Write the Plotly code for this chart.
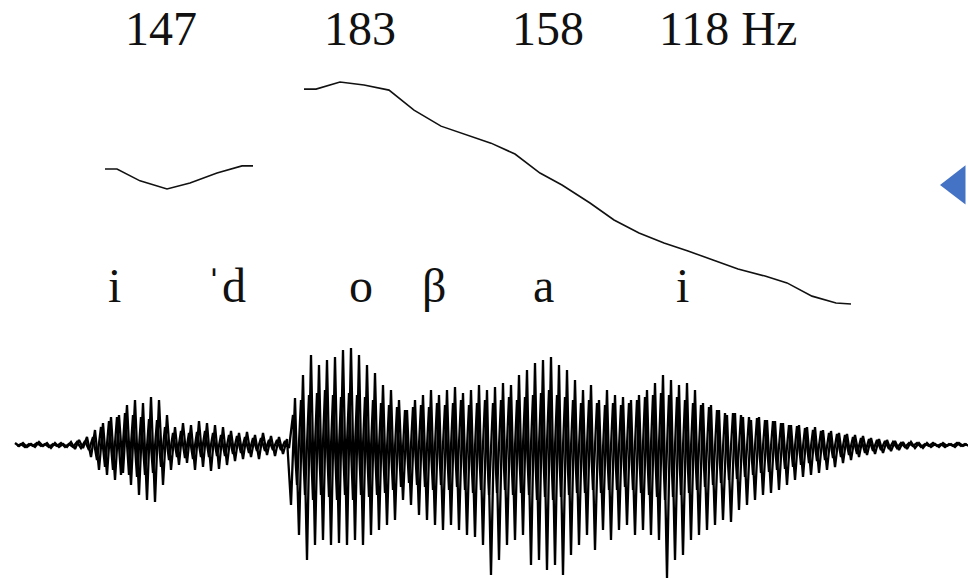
import numpy as np
import plotly.graph_objects as go

# ---------------- data ----------------
# F0 contour, two voiced stretches (time in ms-like units, F0 in Hz)
f0_t1 = [105, 117, 140, 167, 190, 217, 242, 253]
f0_hz1 = [157.4, 157.4, 153.9, 151.5, 153.3, 156.2, 158.3, 158.3]
f0_t2 = [304, 316, 340, 364, 389, 414, 441, 491, 515, 540, 562, 590, 614,
         639, 664, 688, 713, 738, 765, 787, 812, 836, 851]
f0_hz2 = [180.9, 180.9, 183.0, 182.1, 180.6, 174.7, 170.0, 165.0, 161.8,
          156.2, 152.7, 147.4, 142.4, 138.6, 135.6, 133.3, 130.6, 128.0,
          125.9, 123.9, 120.0, 118.0, 117.7]

# Waveform: main excursions, one every 4 time units from t=15
wave_start = 15
wave_step = 4
wave_amp = [
    2, -1, 2, -2, 1, -2, 3, -1, 2, -3, 2, -2, 1, -2, 3, -4, 5, -3, 8, -12,
    15, -25, 22, -30, 28, -35, 30, -28, 40, -40, 45, -50, 42, -55, 48, -57, 45, -40, 30, -25,
    18, -20, 22, -18, 20, -25, 24, -22, 22, -26, 20, -24, 18, -20, 14, -16, 12, -14, 13, -12,
    10, -14, 12, -10, 9, -11, 8, -9, 6, -60, 47, -90, 70, -115, 90, -100, 80, -95, 85, -100,
    88, -98, 95, -100, 97, -95, 90, -100, 80, -90, 72, -85, 60, -80, 55, -75, 45, -55, 35, -60,
    45, -70, 50, -75, 55, -80, 50, -85, 55, -80, 58, -85, 52, -90, 55, -92, 60, -100, 55, -130,
    58, -115, 62, -100, 60, -95, 70, -90, 75, -120, 82, -115, 85, -125, 88, -120, 80, -130, 75, -110,
    65, -100, 55, -90, 60, -105, 45, -85, 55, -95, 50, -85, 48, -80, 45, -90, 50, -85, 55, -90,
    62, -95, 70, -133, 65, -115, 60, -110, 62, -95, 55, -90, 42, -85, 40, -80, 35, -75, 30, -77,
    32, -65, 28, -60, 25, -55, 28, -50, 25, -48, 24, -45, 22, -40, 20, -35, 20, -32, 18, -30,
    18, -28, 15, -25, 14, -22, 12, -18, 11, -15, 10, -12, 9, -10, 7, -9, 6, -8, 5, -6,
    4, -5, 3, -4, 3, -3, 2, -3, 2, -2, 1, -2, 2, -1, 1, -2, 2, -1, 1,
]
# Waveform: dense core oscillation between the main excursions (from t=17)
core_start = 17
core_amp = [
    -1, 1, -2, 1, -1, 2, -1, 1, -2, 1, -1, 2, -2, 1, -2, 3, -3, 4, -5,
    8, -15, 18, -22, 24, -25, 28, -30, 32, -30, 30, -32, 28, -30, 26, -28, 25, -22, 18, -15,
    12, -12, 14, -13, 12, -14, 13, -12, 14, -12, 12, -11, 10, -11, 10, -9, 9, -8, 8, -8,
    7, -6, 7, -6, 5, -5, 5, -5, 4, -3,
    30,
    -40, 45, -50, 50, -55, 52, -50, 55, -52, 50, -55, 48, -50, 52, -55, 50, -50, 48, -52, 45,
    -50, 42, -48, 40, -45, 38, -42,
    35, -38, 38, -40, 40, -42, 38, -45, 42, -40, 40, -45, 42, -42, 45, -45, 40, -48, 42, -45,
    45, -50, 42, -48, 45, -45, 48, -50, 45, -48, 48,
    -50, 50, -55, 52, -52, 55, -55, 50, -52, 48, -50, 45, -48, 42, -48, 45, -45, 42, -48, 40,
    -45, 42, -45, 40, -42, 42, -45, 45, -48, 48, -50,
    50, -52, 52, -55, 50, -52, 48, -50, 45, -48, 42, -45, 40, -42, 38, -40, 35, -38, 32, -35,
    32, -34, 30, -32, 28, -30, 27, -28, 25, -27, 24, -25, 22, -24, 20, -22, 19, -20, 17, -18,
    15, -16, 14, -15, 12, -13, 11, -12, 10, -10, 8, -9, 7, -8, 6, -6, 5, -5, 4, -4, 3, -3,
    2, -2, 2, -1, 2, -2, 1, -1, 2, -1, 1, -2, 1, -1, 2, -1, 1, -1,
]

hz_labels = ["147", "183", "158", "118 Hz"]
hz_label_t = [161, 360, 548, 728]

phone_labels = ["i", "\u02c8d", "o", "\u03b2", "a", "i"]
phone_label_t = [114, 226, 361, 434, 543, 682]

nav_marker_t = [957]
nav_marker_hz = [152.7]

# ---------------- figure ----------------
W, H = 968, 578
wave_t = wave_start + wave_step * np.arange(len(wave_amp))
core_t = core_start + wave_step * np.arange(len(core_amp))


def py(p):
    """window pixel row -> paper fraction"""
    return 1 - p / H


fig = go.Figure()
for t, hz in ((f0_t1, f0_hz1), (f0_t2, f0_hz2)):
    fig.add_trace(go.Scatter(x=t, y=hz, mode="lines",
                             line=dict(color="#111111", width=1.6),
                             hoverinfo="skip", showlegend=False))

fig.add_trace(go.Scatter(x=core_t, y=core_amp, mode="lines", yaxis="y2",
                         line=dict(color="#000000", width=2.3),
                         hoverinfo="skip", showlegend=False))
fig.add_trace(go.Scatter(x=wave_t, y=wave_amp, mode="lines", yaxis="y2",
                         line=dict(color="#000000", width=2.3),
                         hoverinfo="skip", showlegend=False))

fig.add_trace(go.Scatter(x=nav_marker_t, y=nav_marker_hz, mode="markers",
                         marker=dict(symbol="triangle-left", size=34,
                                     color="#4472C4", line=dict(width=0)),
                         hoverinfo="skip", showlegend=False, cliponaxis=False))

font = dict(family="Liberation Serif, Times New Roman, serif", size=48, color="#111111")
for lab, t in zip(hz_labels, hz_label_t):
    fig.add_annotation(x=t, y=1, xref="x", yref="paper", text=lab,
                       showarrow=False, font=font, xanchor="center", yanchor="top")
for lab, t in zip(phone_labels, phone_label_t):
    fig.add_annotation(x=t, y=py(285), xref="x", yref="paper", text=lab,
                       showarrow=False, font=font, xanchor="center", yanchor="middle")

fig.update_layout(
    width=W, height=H, autosize=False,
    margin=dict(l=0, r=0, t=0, b=0),
    paper_bgcolor="white", plot_bgcolor="white",
    hovermode=False,
    xaxis=dict(range=[0, 968], visible=False, fixedrange=True),
    yaxis=dict(range=[37.1, 207.1], visible=False, fixedrange=True),
    yaxis2=dict(range=[-133, 445], visible=False, overlaying="y", fixedrange=True),
)

# remove the default 8px page margin so the figure fills the window exactly
fig.write_html("out.html",
               config={"displayModeBar": False, "staticPlot": True},
               post_script="document.body.style.margin='0';document.body.style.overflow='hidden';")
